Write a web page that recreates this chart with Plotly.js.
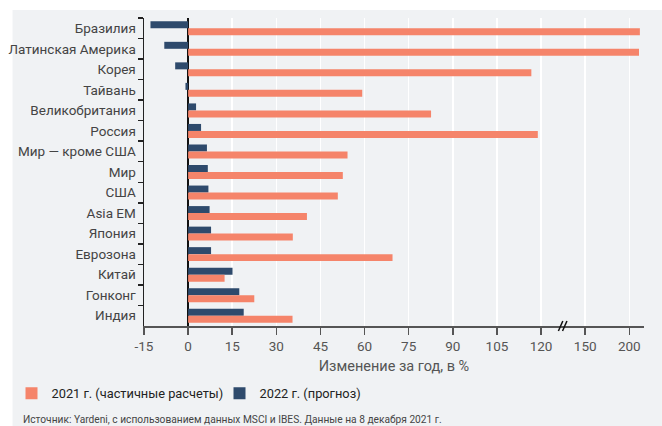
<!DOCTYPE html>
<html>
<head>
<meta charset="utf-8">
<script src="https://cdn.plot.ly/plotly-3.0.1.min.js"></script>
<style>html,body{margin:0;padding:0;background:#fff;}#chart{width:662px;height:426px;}</style>
</head>
<body>
<div id="chart"></div>
<script>
const categories = ['Бразилия','Латинская Америка','Корея','Тайвань','Великобритания','Россия','Мир — кроме США','Мир','США','Asia EM','Япония','Еврозона','Китай','Гонконг','Индия'];
const values2021 = [212, 211, 116.7, 59.2, 82.6, 118.9, 54.2, 52.6, 50.9, 40.4, 35.6, 69.5, 12.4, 22.5, 35.5];
const values2022 = [-12.8, -8.1, -4.4, -0.9, 2.7, 4.4, 6.4, 6.7, 6.9, 7.3, 7.8, 7.8, 15.1, 17.4, 18.9];
const tickValues = [-15, 0, 15, 30, 45, 60, 75, 90, 105, 120, 150, 200];
const seriesNames = ['2021 г. (частичные расчеты)', '2022 г. (прогноз)'];

// broken axis: linear up to 120, then 150..200 compressed
function brokenScale(v) { return v <= 120 ? v : 135 + (v - 150) * 0.3; }

const orange = '#f5846a';
const navy = '#2e4a6c';
const bg = '#f0f2f4';

const traces = [
  {type:'bar', orientation:'h', name: seriesNames[1], y: categories, x: values2022.map(brokenScale),
   customdata: values2022, marker:{color: navy}, legendrank: 2},
  {type:'bar', orientation:'h', name: seriesNames[0], y: categories, x: values2021.map(brokenScale),
   customdata: values2021, marker:{color: orange}, legendrank: 1}
];

const pxX = 502, pxY = 308; // plot area size
const layout = {
  width: 662, height: 426,
  margin: {l: 142, r: 18, t: 18, b: 100},
  paper_bgcolor: '#ffffff',
  plot_bgcolor: 'rgba(0,0,0,0)',
  font: {family: 'Roboto, "Open Sans", sans-serif', color: '#444', size: 13},
  barmode: 'group', bargap: 0.32, bargroupgap: 0,
  showlegend: true,
  legend: {orientation: 'h', x: -0.265, xanchor: 'left', y: -0.17, yanchor: 'top',
           font: {size: 12.8, color: '#222'},
           bgcolor: 'rgba(0,0,0,0)', traceorder: 'normal', entrywidth: 163},
  xaxis: {
    range: [-15, 155], tickmode: 'array',
    tickvals: tickValues.map(brokenScale), ticktext: tickValues.map(String),
    showgrid: true, gridcolor: '#ffffff', gridwidth: 1.5,
    zeroline: true, zerolinecolor: '#111', zerolinewidth: 1.5,
    showline: true, linecolor: '#555', linewidth: 1.5,
    ticks: 'outside', ticklen: 7, tickcolor: '#555', tickwidth: 1.5,
    tickfont: {size: 13.5, color: '#555'},
    title: {text: 'Изменение за год, в %', font: {size: 14.5, color: '#555'}, standoff: 8},
    fixedrange: true
  },
  yaxis: {
    autorange: 'reversed', type: 'category',
    showgrid: false, zeroline: false,
    showline: true, linecolor: '#222', linewidth: 1.5,
    ticks: 'outside', ticklen: 5, tickcolor: '#222', tickwidth: 1.5, tickson: 'boundaries',
    tickfont: {size: 13.5, color: '#444'}, ticklabelstandoff: 4,
    fixedrange: true
  },
  shapes: [
    {type: 'rect', xref: 'paper', yref: 'paper', layer: 'below',
     x0: (10 - 142) / pxX, x1: (662 - 142) / pxX, y0: -100 / pxY, y1: 1 + 8 / pxY,
     fillcolor: bg, line: {width: 0}},
    {type: 'line', xref: 'x', yref: 'paper', x0: 125.9, x1: 127.4, y0: -5 / pxY, y1: 5 / pxY,
     line: {color: '#111', width: 1.5}},
    {type: 'line', xref: 'x', yref: 'paper', x0: 127.3, x1: 128.8, y0: -5 / pxY, y1: 5 / pxY,
     line: {color: '#111', width: 1.5}}
  ],
  annotations: [
    {xref: 'paper', yref: 'paper', x: (19 - 142) / pxX, y: (326 - 419) / pxY,
     xanchor: 'left', yanchor: 'middle', showarrow: false,
     text: 'Источник: Yardeni, с использованием данных MSCI и IBES. Данные на 8 декабря 2021 г.',
     font: {size: 10.2, color: '#444'}}
  ]
};

Plotly.newPlot('chart', traces, layout, {displayModeBar: false, staticPlot: true});
</script>
</body>
</html>
